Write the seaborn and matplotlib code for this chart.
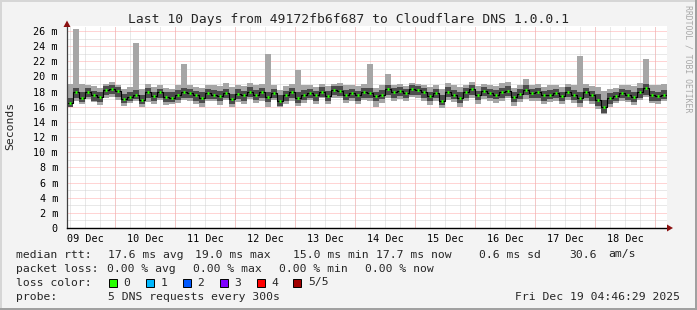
import numpy as np
import pandas as pd
import matplotlib
matplotlib.use("Agg")
import matplotlib.pyplot as plt
import seaborn as sns
from matplotlib.patches import Rectangle, Polygon
from matplotlib.transforms import IdentityTransform
from matplotlib.ticker import MultipleLocator, FixedLocator, FuncFormatter

# ---------------- data (ms), one value per 2.4 h step starting Dec 9 04:46 ----------------
med = [16.5, 17.9, 17.2, 17.9, 17.5, 17.3, 18.2, 18.4, 18.1, 17.0,
       17.3, 17.6, 16.9, 17.9, 17.4, 17.9, 17.3, 17.2, 17.6, 17.9,
       17.8, 17.5, 17.2, 17.8, 17.6, 17.4, 17.8, 17.0, 17.7, 17.5,
       18.0, 17.6, 17.9, 17.3, 17.8, 16.7, 17.5, 17.9, 17.2, 17.6,
       17.8, 17.5, 18.0, 17.4, 18.2, 18.1, 17.6, 17.8, 17.5, 17.9,
       17.8, 17.4, 17.6, 18.3, 17.9, 18.1, 17.8, 18.3, 18.2, 17.9,
       17.4, 17.8, 16.8, 18.0, 17.6, 17.2, 17.9, 18.3, 17.5, 18.1,
       17.8, 17.6, 17.9, 18.1, 17.3, 17.7, 18.2, 17.8, 17.9, 17.5,
       17.6, 17.8, 17.4, 18.0, 17.6, 17.2, 17.9, 17.5, 16.9, 16.0,
       17.1, 17.4, 17.8, 17.6, 17.3, 17.9, 18.5, 17.5, 17.4, 17.6]
ping_max = [19.0, 26.3, 19.0, 18.8, 18.7, 18.5, 19.0, 19.2, 18.9, 18.3,
            18.6, 24.4, 18.4, 19.0, 18.6, 18.8, 18.5, 18.3, 18.9, 21.6,
            18.9, 18.6, 18.5, 18.9, 18.8, 18.7, 19.1, 18.6, 18.8, 18.7,
            19.1, 18.8, 19.0, 23.0, 18.9, 18.2, 18.7, 19.0, 20.8, 18.8,
            18.9, 18.6, 19.0, 18.7, 19.0, 19.1, 18.8, 18.9, 18.7, 19.0,
            21.7, 18.5, 18.8, 20.3, 18.9, 19.0, 18.7, 19.1, 19.0, 18.8,
            18.6, 18.9, 18.4, 19.1, 18.8, 18.6, 18.9, 19.3, 18.7, 19.0,
            18.8, 18.7, 19.1, 19.2, 18.5, 18.8, 19.7, 18.9, 19.0, 18.6,
            18.8, 18.9, 18.6, 19.0, 18.8, 22.7, 19.0, 18.7, 18.6, 18.1,
            18.4, 18.5, 18.9, 18.8, 18.7, 19.1, 22.3, 18.8, 18.9, 19.0]
ping_min = [15.9, 16.7, 16.4, 17.0, 16.6, 16.2, 17.1, 17.3, 16.9, 16.1,
            16.5, 16.7, 15.9, 16.6, 16.4, 16.9, 16.2, 16.3, 16.5, 16.9,
            16.8, 16.3, 16.0, 16.8, 16.7, 16.2, 16.9, 15.9, 16.6, 16.4,
            17.0, 16.5, 16.8, 16.0, 16.9, 15.9, 16.4, 16.8, 16.1, 16.5,
            16.9, 16.4, 17.1, 16.3, 17.2, 17.1, 16.5, 16.8, 16.3, 16.9,
            16.7, 16.0, 16.5, 17.2, 16.8, 17.0, 16.7, 17.3, 17.2, 16.8,
            16.2, 16.8, 15.8, 16.9, 16.6, 16.0, 16.8, 17.2, 16.4, 17.0,
            16.7, 16.5, 16.8, 17.1, 16.1, 16.6, 17.0, 16.7, 16.8, 16.3,
            16.6, 16.8, 16.3, 16.9, 16.5, 16.0, 16.7, 16.4, 15.7, 15.0,
            16.0, 16.5, 16.8, 16.6, 16.2, 16.9, 17.3, 16.5, 16.4, 16.8]
ping_q1 = [15.9, 17.2, 16.6, 17.3, 16.8, 16.6, 17.5, 17.7, 17.3, 16.5,
           16.7, 17.0, 16.3, 17.2, 16.8, 17.2, 16.6, 16.6, 16.9, 17.1,
           17.1, 16.8, 16.5, 17.0, 17.0, 16.7, 17.1, 16.4, 17.0, 16.8,
           17.3, 16.9, 17.2, 16.6, 17.1, 16.1, 16.8, 17.2, 16.5, 16.9,
           17.2, 16.8, 17.3, 16.8, 17.5, 17.4, 16.9, 17.2, 16.8, 17.2,
           17.1, 16.7, 17.0, 17.6, 17.2, 17.4, 17.1, 17.6, 17.5, 17.2,
           16.7, 17.1, 16.2, 17.3, 17.0, 16.5, 17.2, 17.6, 16.9, 17.4,
           17.1, 17.0, 17.2, 17.4, 16.6, 17.0, 17.5, 17.1, 17.2, 16.8,
           17.0, 17.1, 16.7, 17.3, 16.9, 16.5, 17.2, 16.8, 16.1, 15.2,
           16.4, 16.8, 17.1, 16.9, 16.6, 17.2, 17.6, 16.8, 16.8, 17.0]
ping_q3 = [17.2, 18.5, 17.9, 18.5, 18.1, 18.0, 18.7, 18.9, 18.6, 17.7,
           17.9, 18.2, 17.6, 18.5, 18.0, 18.4, 17.9, 17.9, 18.2, 18.5,
           18.4, 18.1, 17.9, 18.4, 18.2, 18.1, 18.4, 17.7, 18.3, 18.1,
           18.6, 18.2, 18.5, 18.0, 18.4, 17.5, 18.1, 18.5, 17.9, 18.2,
           18.4, 18.1, 18.6, 18.1, 18.7, 18.7, 18.2, 18.4, 18.1, 18.5,
           18.5, 18.0, 18.2, 18.8, 18.5, 18.6, 18.4, 18.8, 18.7, 18.5,
           18.0, 18.4, 17.5, 18.6, 18.2, 17.9, 18.5, 18.8, 18.1, 18.6,
           18.4, 18.2, 18.5, 18.7, 17.9, 18.3, 18.8, 18.4, 18.5, 18.1,
           18.2, 18.4, 18.0, 18.6, 18.2, 17.9, 18.5, 18.1, 17.7, 16.9,
           17.8, 18.0, 18.4, 18.2, 17.9, 18.5, 19.0, 18.1, 18.0, 18.2]

day_labels = ["09 Dec", "10 Dec", "11 Dec", "12 Dec", "13 Dec",
              "14 Dec", "15 Dec", "16 Dec", "17 Dec", "18 Dec"]
loss_labels = ["0", "1", "2", "3", "4", "5/5"]
loss_colors = ["#26ff00", "#00b8ff", "#0059ff", "#7e00ff", "#ff0000", "#a10000"]

title = "Last 10 Days from 49172fb6f687 to Cloudflare DNS 1.0.0.1"

# ---------------- figure ----------------
W, H = 697, 310
BG = "#f3f3f3"
sns.set_style("white")
plt.rcParams["font.family"] = ["DejaVu Sans Mono"]

fig = plt.figure(figsize=(W / 100, H / 100), dpi=100, facecolor=BG)
ax_left, ax_right, ax_bottom, ax_top = 67, 667, 228, 26
ax = fig.add_axes([ax_left / W, (H - ax_bottom) / H,
                   (ax_right - ax_left) / W, (ax_bottom - ax_top) / H])
ax.set_facecolor("white")

t0 = 9 + (4 + 46 / 60) / 24
step = 0.1
n = len(med)
t_edges = t0 + step * np.arange(n + 1)
t_mid = t0 + step * (np.arange(n) + 0.5)

def ext(a):
    return list(a) + [a[-1]]

ax.fill_between(t_edges, ext(ping_min), ext(ping_max), step="post",
                color="#a6a6a6", lw=0, zorder=2)
ax.fill_between(t_edges, ext(ping_q1), ext(ping_q3), step="post",
                color="#4c4c4c", lw=0, zorder=3)

df = pd.DataFrame({"t": t_edges, "median": ext(med)})
sns.lineplot(data=df, x="t", y="median", drawstyle="steps-post",
             color="black", lw=0.8, ax=ax, zorder=4)
ax.hlines(med, t_mid - 0.018, t_mid + 0.018, colors="#26ff00", lw=2.0, zorder=5)

ax.set_xlim(t0, t0 + 10)
ax.set_ylim(0, (ax_bottom - ax_top) / 7.58)

# grids
dot = (0, (1, 1))
ax.yaxis.set_major_locator(MultipleLocator(2))
ax.yaxis.set_minor_locator(MultipleLocator(1))
ax.yaxis.set_major_formatter(FuncFormatter(lambda v, p: "0" if v == 0 else f"{int(v)} m"))
ax.xaxis.set_major_locator(FixedLocator([d + 0.5 for d in range(9, 19)]))
ax.xaxis.set_minor_locator(MultipleLocator(0.25))
ax.set_xticklabels(day_labels)
ax.set_axisbelow(True)
ax.grid(which="major", axis="y", color="#ffaaaa", ls=dot, lw=0.72)
ax.grid(which="minor", axis="y", color="#d2d2d2", ls=dot, lw=0.72)
ax.grid(which="both", axis="x", color="#d2d2d2", ls=dot, lw=0.72)
for d in range(10, 20):
    ax.axvline(d, color="#ffaaaa", ls=dot, lw=0.72, zorder=1)

ax.tick_params(axis="y", which="major", length=2, width=0.72, color="#ffaaaa",
               pad=4.5, labelsize=7.3, labelcolor="black")
ax.tick_params(axis="y", which="minor", length=1.5, width=0.72, color="#d2d2d2")
ax.tick_params(axis="x", which="both", length=0, pad=4, labelsize=7.3, labelcolor="black")
ax.set_xlabel("")
ax.set_ylabel("")

for s in ["top", "right"]:
    ax.spines[s].set_visible(False)
ax.spines["left"].set_color("#404040")
ax.spines["left"].set_linewidth(0.9)
ax.spines["bottom"].set_color("black")
ax.spines["bottom"].set_linewidth(1.0)
ax.spines["left"].set_zorder(6)
ax.spines["bottom"].set_zorder(6)

# ---------------- pixel-space decorations ----------------
T = IdentityTransform()
def P(x, y):
    return (x, H - y)

# arrows
fig.patches.append(Polygon([P(667, 224.5), P(667, 231.5), P(673, 228)], closed=True,
                           transform=T, facecolor="#8b1010", edgecolor="none", zorder=10))
fig.patches.append(Polygon([P(63.5, 27), P(70.5, 27), P(67, 20.5)], closed=True,
                           transform=T, facecolor="#8b1010", edgecolor="none", zorder=10))

# frame
fig.patches.append(Rectangle((0, H - 2), W, 2, transform=T, facecolor="#d6d6d6", edgecolor="none"))
fig.patches.append(Rectangle((0, 0), 2, H, transform=T, facecolor="#d6d6d6", edgecolor="none"))
fig.patches.append(Rectangle((W - 2, 0), 2, H, transform=T, facecolor="#a0a0a0", edgecolor="none"))
fig.patches.append(Rectangle((0, 0), W, 2, transform=T, facecolor="#a0a0a0", edgecolor="none"))

def txt(x, y, s, **kw):
    kw.setdefault("fontsize", 8.2)
    kw.setdefault("va", "center")
    kw.setdefault("ha", "left")
    fig.text(x, H - y, s, transform=T, **kw)

txt(348, 19, title, fontsize=9.4, ha="center")
txt(10, 126, "Seconds", rotation=90, ha="center", fontsize=8.2)
txt(688, 5, "RRDTOOL / TOBI OETIKER", rotation=270, ha="center", va="top",
    fontsize=5.9, color="#a8a8a8")

# legend rows
r1, r2, r3, r4 = 254.5, 268.5, 282.5, 296.5
txt(16, r1, "median rtt:")
for x, s in [(108, "17.6 ms avg"), (195, "19.0 ms max"), (293, "15.0 ms min"),
             (376, "17.7 ms now"), (479, "0.6 ms sd"), (569, "30.6"), (608, "am/s")]:
    txt(x, r1, s)
txt(16, r2, "packet loss:")
for x, s in [(107, "0.00 % avg"), (193, "0.00 % max"), (279, "0.00 % min"),
             (365, "0.00 % now")]:
    txt(x, r2, s)
txt(16, r3, "loss color:")
box_x = [108.5, 145.5, 182.5, 219.5, 256.5, 293]
for bx, lab, col in zip(box_x, loss_labels, loss_colors):
    fig.patches.append(Rectangle(P(bx, r3 + 4), 8, 8, transform=T, facecolor=col,
                                 edgecolor="black", lw=0.7))
    txt(bx + 15, r3, lab)
txt(16, r4, "probe:")
txt(107.5, r4, "5 DNS requests every 300s")
txt(680, r4, "Fri Dec 19 04:46:29 2025", ha="right")

fig.savefig("out.png", dpi=100, facecolor=BG)
